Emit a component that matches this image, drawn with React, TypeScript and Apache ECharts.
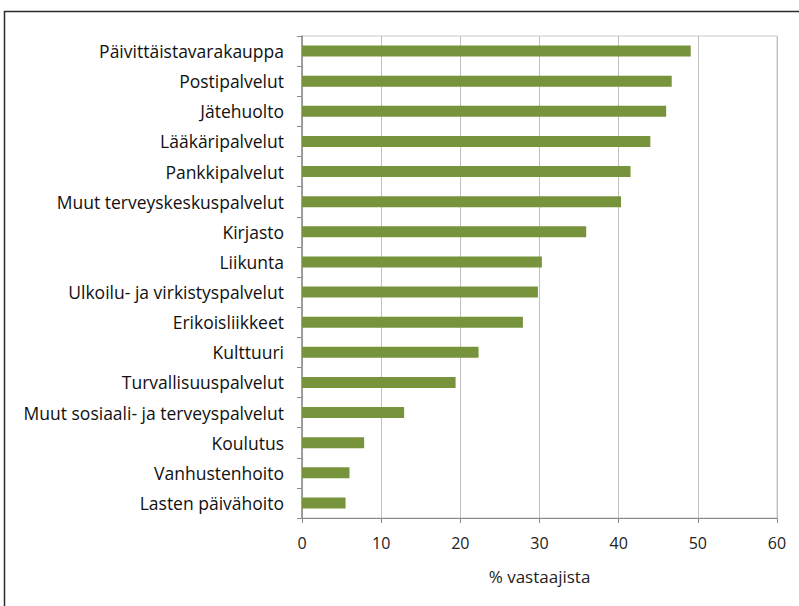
import React, { useEffect, useRef } from "react";
import * as echarts from "echarts";

const categories = [
  "Päivittäistavarakauppa",
  "Postipalvelut",
  "Jätehuolto",
  "Lääkäripalvelut",
  "Pankkipalvelut",
  "Muut terveyskeskuspalvelut",
  "Kirjasto",
  "Liikunta",
  "Ulkoilu- ja virkistyspalvelut",
  "Erikoisliikkeet",
  "Kulttuuri",
  "Turvallisuuspalvelut",
  "Muut sosiaali- ja terveyspalvelut",
  "Koulutus",
  "Vanhustenhoito",
  "Lasten päivähoito",
];

const values = [49.1, 46.7, 46.0, 44.0, 41.5, 40.3, 35.9, 30.3, 29.8, 27.9, 22.3, 19.4, 12.9, 7.85, 6.0, 5.5];

const xTicks = [0, 10, 20, 30, 40, 50, 60];
const xAxisTitle = "% vastaajista";

const FONT = "'Open Sans', sans-serif";

export default function App() {
  const ref = useRef<HTMLDivElement>(null);
  useEffect(() => {
    document.body.style.margin = "0";
    const chart = echarts.init(ref.current!, null, { renderer: "svg" });
    chart.setOption({
      animation: false,
      backgroundColor: "#ffffff",
      graphic: [
        {
          type: "rect",
          shape: { x: 4.5, y: 11.5, width: 830, height: 640 },
          style: { fill: "none", stroke: "#2b2b2b", lineWidth: 1.5 },
          silent: true,
        },
      ],
      grid: {
        left: 302,
        right: 22,
        top: 36,
        bottom: 88,
        show: true,
        borderColor: "#c8c8c8",
        borderWidth: 1,
      },
      xAxis: {
        type: "value",
        min: xTicks[0],
        max: xTicks[xTicks.length - 1],
        interval: 10,
        name: xAxisTitle,
        nameLocation: "middle",
        nameGap: 50,
        nameTextStyle: { fontFamily: FONT, fontSize: 17, color: "#222" },
        axisLine: { show: true, lineStyle: { color: "#8c8c8c", width: 1.2 } },
        axisTick: { show: true, length: 5, lineStyle: { color: "#8c8c8c" } },
        axisLabel: { fontFamily: FONT, fontSize: 16, color: "#222", margin: 17 },
        splitLine: { show: true, lineStyle: { color: "#c0c0c0", width: 1 } },
      },
      yAxis: {
        type: "category",
        data: categories,
        inverse: true,
        axisLine: { show: true, lineStyle: { color: "#8c8c8c", width: 1.5 } },
        axisTick: { show: true, length: 5, lineStyle: { color: "#8c8c8c" } },
        axisLabel: { fontFamily: FONT, fontSize: 17.5, color: "#111", margin: 18 },
      },
      series: [
        {
          type: "bar",
          data: values,
          barWidth: 11,
          itemStyle: { color: "#77933c" },
        },
      ],
    });
    return () => chart.dispose();
  }, []);
  return <div ref={ref} style={{ width: 799, height: 606 }} />;
}
